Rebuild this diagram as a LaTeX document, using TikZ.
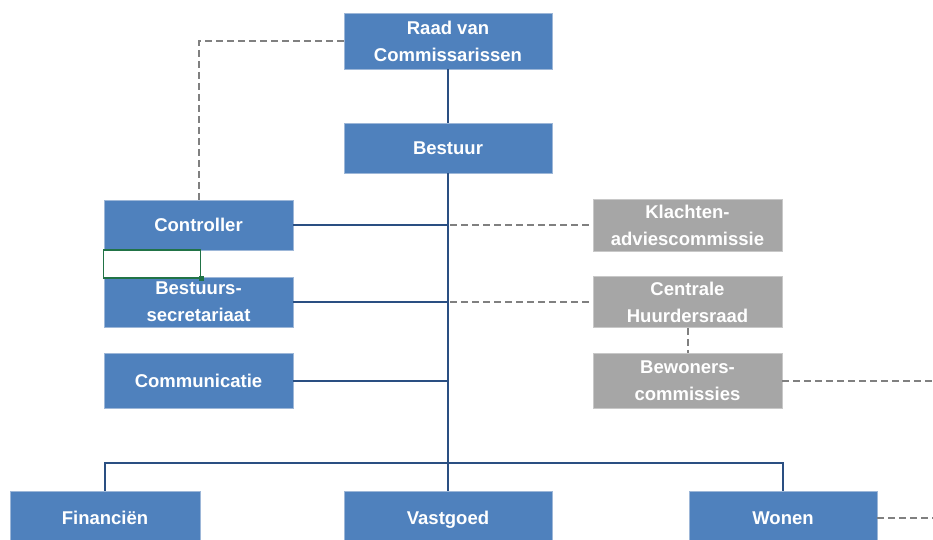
\documentclass[tikz,border=0pt]{standalone}
\usepackage{fontspec}
\setmainfont{Liberation Sans}
\definecolor{boxblue}{HTML}{4F81BD}
\definecolor{boxedge}{HTML}{9DB7D8}
\definecolor{boxgray}{HTML}{A6A6A6}
\definecolor{grayedge}{HTML}{C8C8C8}
\definecolor{linkblue}{HTML}{2A4F82}
\definecolor{dashgray}{HTML}{808080}
\definecolor{selgreen}{HTML}{217346}
\tikzset{
  orgbox/.style={draw=boxedge, line width=0.8pt, fill=boxblue, text=white, inner sep=0pt, align=center,
    font=\fontsize{18.5}{27}\selectfont\bfseries},
  oneline/.style={text height=13.2pt, text depth=0pt},
  wide/.style={minimum width=208pt, minimum height=#1},
  mid/.style={minimum width=189pt, minimum height=#1},
  greybox/.style={orgbox, draw=grayedge, fill=boxgray},
  solidlink/.style={draw=linkblue, line width=2pt},
  dashlink/.style={draw=dashgray, line width=2pt, dash pattern=on 7pt off 4pt},
}
\begin{document}
\begin{tikzpicture}[x=1pt,y=-1pt]
\useasboundingbox (0,0) rectangle (933,539);
\clip (0,0) rectangle (933,539);
% boxes
\node[orgbox, wide=56pt] (raad) at (448,41) {Raad van\\Commissarissen};
\node[orgbox, oneline, wide=50pt] (bestuur) at (448,148) {Bestuur};
\node[orgbox, oneline, mid=50pt] (ctrl) at (198.5,225) {Controller};
\node[orgbox, mid=50pt] (secr) at (198.5,302) {Bestuurs-\\secretariaat};
\node[orgbox, oneline, mid=55pt] (comm) at (198.5,380.5) {Communicatie};
\node[greybox, mid=52pt] (klacht) at (687.5,225) {Klachten-\\adviescommissie};
\node[greybox, mid=51pt] (chr) at (687.5,302) {Centrale\\Huurdersraad};
\node[greybox, mid=55pt] (bew) at (687.5,380.5) {Bewoners-\\commissies};
\node[orgbox, oneline, minimum width=190pt, minimum height=54pt] (fin) at (105,518) {Financiën};
\node[orgbox, oneline, wide=54pt] (vast) at (448,518) {Vastgoed};
\node[orgbox, oneline, minimum width=188pt, minimum height=54pt] (won) at (783,518) {Wonen};
% selection rectangle
\node[draw=selgreen, line width=1.5pt, minimum width=97pt, minimum height=28pt, inner sep=0pt] (sel) at (152,264) {};
\node[fill=selgreen, minimum size=5pt, inner sep=0pt] (selh) at (sel.south east) {};
% coordinates
\coordinate (bus) at (448,463);
\coordinate (edgeA) at (933,380.5);
\coordinate (edgeB) at (933,518);
% solid links
\draw[solidlink] (raad.south) -- (bestuur.north);
\draw[solidlink] (bestuur.south) -- (bus) -- (vast.north);
\draw[solidlink] (fin.north) -- (fin.north |- bus) -- (won.north |- bus) -- (won.north);
\draw[solidlink] (ctrl.east) -- (ctrl.east -| bus);
\draw[solidlink] (secr.east) -- (secr.east -| bus);
\draw[solidlink] (comm.east) -- (comm.east -| bus);
% dashed links
\draw[dashlink] (raad.west) -- (raad.west -| ctrl.north) -- (ctrl.north);
\draw[dashlink] (klacht.west -| bus) ++(2,0) -- (klacht.west);
\draw[dashlink] (chr.west -| bus) ++(2,0) -- (chr.west);
\draw[dashlink] (chr.south) -- (bew.north);
\draw[dashlink] (bew.east) -- (edgeA);
\draw[dashlink] (won.east) -- (edgeB);
\end{tikzpicture}
\end{document}
